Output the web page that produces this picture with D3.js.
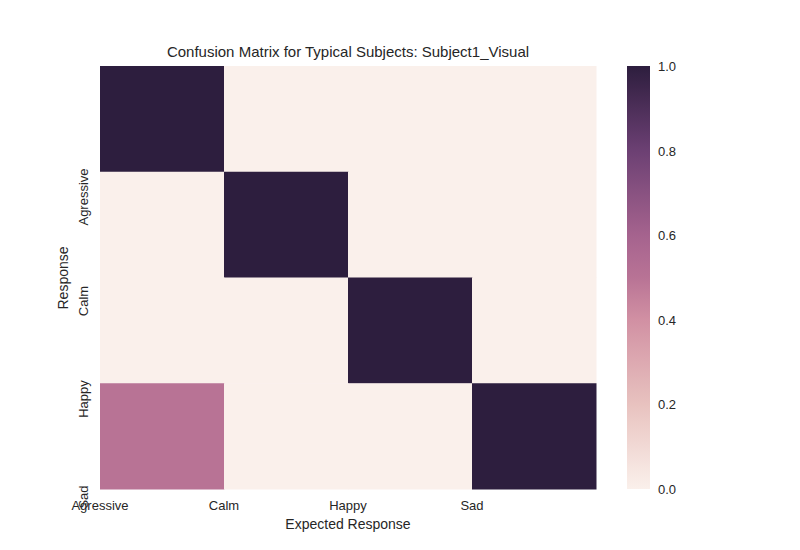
<!DOCTYPE html>
<html><head><meta charset="utf-8">
<script src="https://cdn.jsdelivr.net/npm/d3@7"></script>
<style>body{margin:0;background:#fff}text{font-family:"Liberation Sans",Arial,sans-serif;fill:#262626}</style>
</head><body><svg id="c" width="800" height="550"></svg>
<script>
const categories=["Agressive","Calm","Happy","Sad"];
const matrix=[[1,0,0,0],[0,1,0,0],[0,0,1,0],[0.5,0,0,1]];
const cbTicks=[0,0.2,0.4,0.6,0.8,1.0];
const ylabelCenters=[197,301,399,497];
const svg=d3.select("#c");
const x=d3.scaleBand().domain(d3.range(4)).range([100,596]);
const y=d3.scaleBand().domain(d3.range(4)).range([66,489]);
const color=d3.scaleLinear().domain([0,0.2,0.4,0.5,0.6,0.8,1])
 .range(["#faf0eb","#e8c2bf","#d190a3","#b87395","#a5638e","#6c4073","#2d1e3e"]);
matrix.forEach((row,i)=>row.forEach((v,j)=>{
 svg.append("rect").attr("x",x(j)).attr("y",y(i)).attr("width",x.bandwidth()+0.5).attr("height",y.bandwidth()+0.5).attr("fill",color(v));
}));
categories.forEach((c,j)=>svg.append("text").attr("x",x(j)).attr("y",510).attr("text-anchor","middle").attr("font-size",13).text(c));
categories.forEach((c,i)=>svg.append("text").attr("transform",`translate(88,${ylabelCenters[i]}) rotate(-90)`).attr("text-anchor","middle").attr("font-size",13).text(c));
svg.append("text").attr("x",348).attr("y",529).attr("text-anchor","middle").attr("font-size",14).text("Expected Response");
svg.append("text").attr("transform","translate(68,278) rotate(-90)").attr("text-anchor","middle").attr("font-size",14).text("Response");
svg.append("text").attr("x",348).attr("y",57).attr("text-anchor","middle").attr("font-size",15).text("Confusion Matrix for Typical Subjects: Subject1_Visual");
// colorbar
const cy=d3.scaleLinear().domain([0,1]).range([489,66]);
const defs=svg.append("defs");
const g=defs.append("linearGradient").attr("id","g").attr("x1",0).attr("y1",1).attr("x2",0).attr("y2",0);
d3.range(0,1.001,0.05).forEach(t=>g.append("stop").attr("offset",t).attr("stop-color",color(t)));
svg.append("rect").attr("x",627).attr("y",66).attr("width",23).attr("height",423).attr("fill","url(#g)");
cbTicks.forEach(t=>svg.append("text").attr("x",658).attr("y",cy(t)+5).attr("font-size",13).text(t.toFixed(1)));
</script></body></html>
